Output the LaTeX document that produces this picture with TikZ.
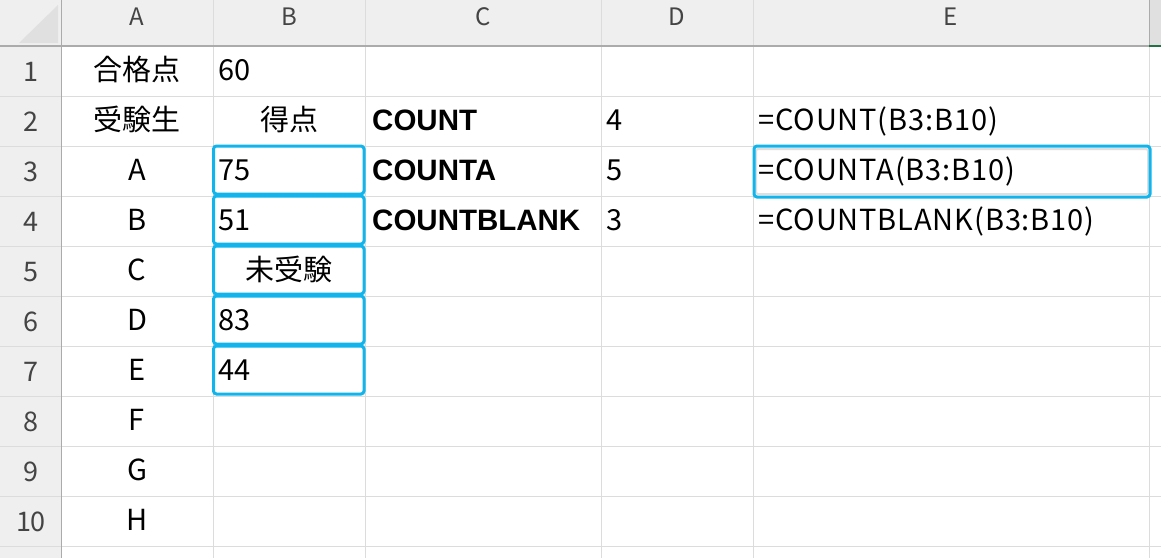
\documentclass[tikz,border=0pt]{standalone}
\usepackage{fontspec}
\setmainfont{Noto Sans CJK JP}
\newfontfamily\arialfont{Liberation Sans}
\newfontfamily\formfont{Noto Sans CJK JP}[LetterSpace=3]
\definecolor{hdrbg}{HTML}{EFEFEF}
\definecolor{hdrdark}{HTML}{E0E0E0}
\definecolor{gridc}{HTML}{DCDCDC}
\definecolor{hdrline}{HTML}{ABABAB}
\definecolor{hdrtext}{HTML}{444444}
\definecolor{selblue}{HTML}{12B4EC}
\definecolor{xlgreen}{HTML}{217346}
\tikzset{
  cell/.style={anchor=base, inner sep=0pt, font=\fontsize{29}{29}\selectfont, text=black},
  celll/.style={cell, anchor=base west},
  formcell/.style={anchor=base west, inner sep=0pt, font=\formfont\fontsize{29}{29}\selectfont},
  boldcell/.style={anchor=base west, inner sep=0pt, font=\arialfont\bfseries\fontsize{29.5}{29.5}\selectfont},
  colhdr/.style={anchor=base, inner sep=0pt, font=\fontsize{24}{24}\selectfont, text=hdrtext},
  rowhdr/.style={anchor=base, inner sep=0pt, font=\fontsize{27}{27}\selectfont, text=hdrtext},
  selbox/.style={draw=selblue, line width=3pt, rounded corners=3pt},
}
\begin{document}
\begin{tikzpicture}[x=1pt,y=-1pt]
\useasboundingbox (0,0) rectangle (1161,558);
\fill[white] (0,0) rectangle (1161,558);
% header backgrounds
\fill[hdrbg] (0,0) rectangle (1161,46);
\fill[hdrbg] (0,46) rectangle (61,558);
\fill[hdrdark] (1149,0) rectangle (1161,46);
% corner triangle
\fill[hdrdark] (19,43) -- (58,43) -- (58,5) -- cycle;
% grid horizontal lines
\foreach \y in {96,146,196,246,296,346,396,446,496,546}
  \draw[gridc, line width=1pt] (0,\y) -- (1161,\y);
% grid vertical lines
\foreach \x in {213,365,601,753}
  \draw[gridc, line width=1pt] (\x,0) -- (\x,558);
\draw[hdrline, line width=1pt] (1149,0) -- (1149,46);
\draw[gridc, line width=1pt] (1149,46) -- (1149,558);
% header borders
\draw[hdrline, line width=1.3pt] (0,46) -- (1149,46);
\draw[xlgreen, line width=2.2pt] (1149,46) -- (1161,46);
\draw[hdrline, line width=1.3pt] (61.5,0) -- (61.5,558);
% column headers
\node[colhdr] (hA) at (137,25) {A};
\node[colhdr] (hB) at (289,25) {B};
\node[colhdr] (hC) at (483,25) {C};
\node[colhdr] (hD) at (677,25) {D};
\node[colhdr] (hE) at (951,25) {E};
% row headers
\foreach \r in {1,...,10}
  \node[rowhdr] (r\r) at (31,{81+50*(\r-1)}) {\r};
% column A
\node[cell] (a1) at (137,80) {合格点};
\node[cell] (a2) at (137,130) {受験生};
\node[cell] (a3) at (137,180) {A};
\node[cell] (a4) at (137,230) {B};
\node[cell] (a5) at (137,280) {C};
\node[cell] (a6) at (137,330) {D};
\node[cell] (a7) at (137,380) {E};
\node[cell] (a8) at (137,430) {F};
\node[cell] (a9) at (137,480) {G};
\node[cell] (a10) at (137,530) {H};
% column B
\node[celll] (b1) at (218,80) {60};
\node[cell] (b2) at (289,130) {得点};
\node[celll] (b3) at (218,180) {75};
\node[celll] (b4) at (218,230) {51};
\node[cell] (b5) at (289,280) {未受験};
\node[celll] (b6) at (218,330) {83};
\node[celll] (b7) at (218,380) {44};
% column C
\node[boldcell] (c2) at (372,130) {COUNT};
\node[boldcell] (c3) at (372,180) {COUNTA};
\node[boldcell] (c4) at (372,230) {COUNTBLANK};
% column D
\node[celll] (d2) at (606,130) {4};
\node[celll] (d3) at (606,180) {5};
\node[celll] (d4) at (606,230) {3};
% column E
\node[formcell] (e2) at (758,130) {=COUNT(B3:B10)};
\node[formcell] (e3) at (758,180) {=COUNTA(B3:B10)};
\node[formcell] (e4) at (758,230) {=COUNTBLANK(B3:B10)};
% selection boxes
\foreach \t in {146,196,246,296,346}
  \draw[selbox] (213.5,\t) rectangle (364,\t+48);
\draw[gray!25, line width=2pt, rounded corners=2pt] (756,149) rectangle (1148,194);
\draw[selbox] (754,146) rectangle (1150,197);
\end{tikzpicture}
\end{document}
